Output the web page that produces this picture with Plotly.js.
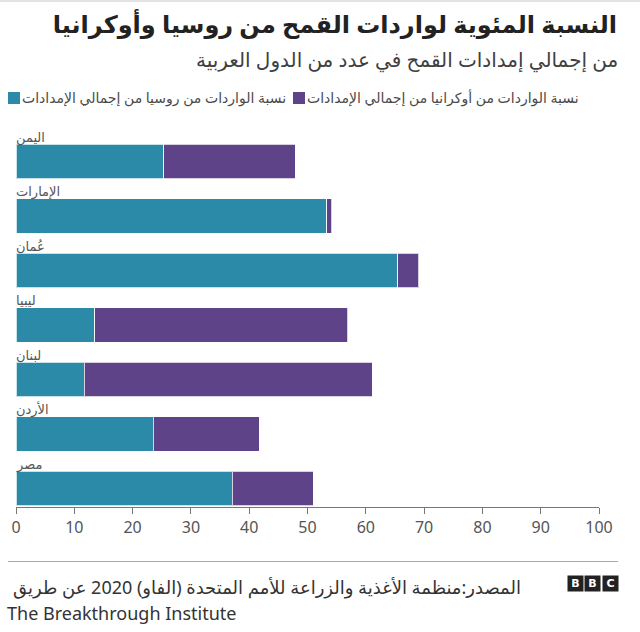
<!DOCTYPE html>
<html>
<head>
<meta charset="utf-8">
<script src="https://cdn.plot.ly/plotly-3.0.1.min.js"></script>
<style>html,body{margin:0;padding:0;background:#fff;}#chart{width:640px;height:632px;}</style>
</head>
<body>
<div id="chart"></div>
<script>
// Data
const categories = ['اليمن', 'الإمارات', 'عُمان', 'ليبيا', 'لبنان', 'الأردن', 'مصر'];
const russiaShare = [25.3, 53.3, 65.5, 13.5, 11.7, 23.5, 37.1];
const ukraineShare = [22.6, 0.9, 3.6, 43.4, 49.4, 18.2, 13.9];
const seriesNames = ['نسبة الواردات من روسيا من إجمالي الإمدادات', 'نسبة الواردات من أوكرانيا من إجمالي الإمدادات'];
const xTicks = [0, 10, 20, 30, 40, 50, 60, 70, 80, 90, 100];

const titleText = 'النسبة المئوية لواردات القمح من روسيا وأوكرانيا';
const subtitleText = 'من إجمالي إمدادات القمح في عدد من الدول العربية';
const sourceText = 'المصدر:منظمة الأغذية والزراعة للأمم المتحدة (الفاو) 2020 عن طريق';
const sourceText2 = 'The Breakthrough Institute';

const teal = '#2b8aa8';
const purple = '#5e4388';
const FONT = 'Noto Sans, DejaVu Sans, sans-serif';

// layout geometry helpers (pixel -> paper)
const W = 640, H = 632;
const M = {l: 16, r: 41, t: 125, b: 125};
const PW = W - M.l - M.r, PH = H - M.t - M.b;
const px = x => (x - M.l) / PW;
const py = y => (H - M.b - y) / PH;

const barLine = {color: 'rgba(255,255,255,0.75)', width: 1};
const traces = [
  {type: 'bar', orientation: 'h', name: seriesNames[0], y: categories, x: russiaShare,
   marker: {color: teal, line: barLine}, hoverinfo: 'x+y'},
  {type: 'bar', orientation: 'h', name: seriesNames[1], y: categories, x: ukraineShare,
   marker: {color: purple, line: barLine}, hoverinfo: 'x+y'}
];

const annotations = categories.map(c => ({
  x: 0, xref: 'x', y: c, yref: 'y', text: c, showarrow: false,
  xanchor: 'left', yanchor: 'middle', xshift: -2, yshift: 25,
  font: {family: FONT, size: 13, color: '#555'}
}));

annotations.push(
  {xref: 'paper', yref: 'paper', x: px(620), y: py(60), xanchor: 'right', yanchor: 'middle',
   text: subtitleText, showarrow: false, font: {family: FONT, size: 20, color: '#404040'}},
  {xref: 'paper', yref: 'paper', x: px(20), y: py(98), xanchor: 'left', yanchor: 'middle',
   text: seriesNames[0], showarrow: false, font: {family: FONT, size: 14, color: '#4a4a4a'}},
  {xref: 'paper', yref: 'paper', x: px(305), y: py(98), xanchor: 'left', yanchor: 'middle',
   text: seriesNames[1], showarrow: false, font: {family: FONT, size: 14, color: '#4a4a4a'}},
  {xref: 'paper', yref: 'paper', x: px(523), y: py(587), xanchor: 'right', yanchor: 'middle',
   text: sourceText, showarrow: false, font: {family: FONT, size: 18, color: '#333'}},
  {xref: 'paper', yref: 'paper', x: px(5), y: py(613), xanchor: 'left', yanchor: 'middle',
   text: sourceText2, showarrow: false, font: {family: FONT, size: 18, color: '#333'}}
);
['B', 'B', 'C'].forEach((ch, i) => {
  annotations.push({xref: 'paper', yref: 'paper', x: px(575 + i * 17.5), y: py(583.5),
    xanchor: 'center', yanchor: 'middle', text: '<b>' + ch + '</b>', showarrow: false,
    width: 13, height: 13, bgcolor: '#222', borderpad: 1,
    font: {family: 'DejaVu Sans, sans-serif', size: 11, color: '#fff'}});
});

const shapes = [
  {type: 'rect', xref: 'paper', yref: 'paper', x0: px(8), x1: px(20), y0: py(104), y1: py(92),
   fillcolor: teal, line: {width: 0}},
  {type: 'rect', xref: 'paper', yref: 'paper', x0: px(293), x1: px(305), y0: py(104), y1: py(92),
   fillcolor: purple, line: {width: 0}},
  {type: 'line', xref: 'paper', yref: 'paper', x0: px(8), x1: px(618), y0: py(561.5), y1: py(561.5),
   line: {color: '#aaa', width: 1}},
  {type: 'line', xref: 'paper', yref: 'paper', x0: px(0), x1: px(640), y0: py(1), y1: py(1),
   line: {color: '#e3e3e3', width: 2}}
];

const layout = {
  width: W, height: H,
  margin: M,
  paper_bgcolor: '#fff', plot_bgcolor: '#fff',
  barmode: 'stack', bargap: 0.37,
  showlegend: false,
  title: {text: '<b>' + titleText + '</b>', xref: 'container', yref: 'container',
          x: 617 / W, xanchor: 'right', y: 1 - 25 / H, yanchor: 'middle',
          font: {family: FONT, size: 24, color: '#222'}},
  xaxis: {range: [0, 100], tickvals: xTicks, ticktext: xTicks.map(String),
          ticks: 'outside', ticklen: 6, tickcolor: '#777', tickwidth: 1,
          showline: true, linecolor: '#777', linewidth: 1,
          showgrid: false, zeroline: false,
          tickfont: {family: FONT, size: 16, color: '#555'}},
  yaxis: {type: 'category', categoryarray: categories, categoryorder: 'array',
          range: [6.339, -0.670], showticklabels: false, showgrid: false,
          zeroline: false, showline: false, ticks: ''},
  annotations: annotations,
  shapes: shapes
};

Plotly.newPlot('chart', traces, layout, {displayModeBar: false, staticPlot: true});
</script>
</body>
</html>
